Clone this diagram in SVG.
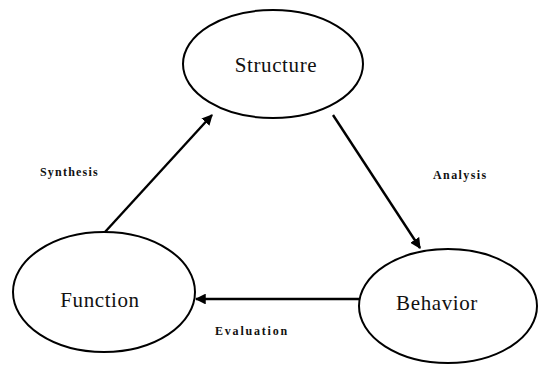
<svg xmlns="http://www.w3.org/2000/svg" width="540" height="365" viewBox="0 0 540 365">
  <style>
    .node ellipse { fill: #fff; stroke: #000; stroke-width: 2; }
    .nt { font-size: 21px; fill: #111; text-anchor: middle; letter-spacing: 0.6px; }
    .conn line { stroke: #000; stroke-width: 2.4; }
    .lbl { font-weight: bold; font-size: 12px; fill: #111; }
  </style>
  <defs>
    <marker id="ah" viewBox="0 0 10 10" refX="9" refY="5" markerWidth="4.5" markerHeight="4.5" orient="auto" markerUnits="strokeWidth">
      <path d="M0,0 L10,5 L0,10 Z" fill="#000"/>
    </marker>
  </defs>
  <rect width="540" height="365" fill="#fff"/>
  <g font-family="'Liberation Serif', 'Times New Roman', serif">
  <g id="structure" class="node">
    <ellipse cx="273" cy="64" rx="90" ry="54"/>
    <text class="nt" x="276" y="72">Structure</text>
  </g>
  <g id="function" class="node">
    <ellipse cx="104" cy="292" rx="91" ry="60"/>
    <text class="nt" x="100" y="307">Function</text>
  </g>
  <g id="behavior" class="node">
    <ellipse cx="448" cy="306" rx="89" ry="57"/>
    <text class="nt" x="437" y="310">Behavior</text>
  </g>
  <g id="connectors" class="conn">
    <line x1="105" y1="232" x2="212" y2="115" marker-end="url(#ah)"/>
    <line x1="333" y1="115" x2="420" y2="248" marker-end="url(#ah)"/>
    <line x1="359" y1="299" x2="196" y2="299" marker-end="url(#ah)"/>
  </g>
  <g id="labels">
    <text class="lbl" x="40" y="176" letter-spacing="1.2">Synthesis</text>
    <text class="lbl" x="433" y="179" font-size="11" letter-spacing="1.4">Analysis</text>
    <text class="lbl" x="215" y="335" letter-spacing="1.8">Evaluation</text>
  </g>
  </g>
</svg>
